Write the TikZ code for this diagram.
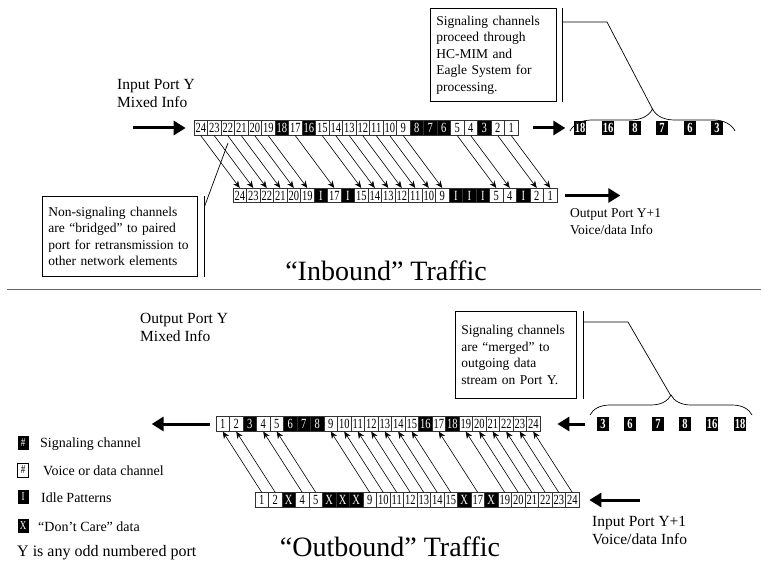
\documentclass[tikz,border=0pt]{standalone}
\usepackage{fontspec}
\setmainfont{Liberation Serif}
\newfontfamily\cellfont[FakeStretch=0.75]{Liberation Serif}
\usetikzlibrary{arrows.meta, decorations.pathreplacing, positioning}

\tikzset{
  cell/.style={draw=black!80, line width=0.7pt, minimum width=13.5pt, minimum height=14.5pt,
    inner sep=0pt, font=\cellfont\fontsize{14}{14}\selectfont},
  cellw/.style={cell, fill=white},
  cellb/.style={cell, fill=black, text=white},
  sigbox/.style={fill=black, text=white, minimum width=12pt, minimum height=14.5pt,
    inner xsep=1pt, inner ysep=0pt, font=\cellfont\fontsize{14}{14}\selectfont\bfseries},
  link/.style={-{Stealth[length=7pt,width=6pt]}, line width=0.6pt},
  port/.style={-{Triangle[length=12pt,width=14pt]}, line width=3pt},
  porttext/.style={align=left, inner sep=0pt, font=\fontsize{13.5}{17}\selectfont},
  bigport/.style={porttext, font=\fontsize{15.5}{18.5}\selectfont},
  callout/.style={draw, line width=0.7pt, align=left, inner sep=6pt,
    font=\fontsize{13.5}{16.5}\selectfont},
  title/.style={inner sep=0pt, anchor=base, font=\fontsize{28}{30}\selectfont},
  legbox/.style={minimum width=11pt, minimum height=14pt, inner sep=0pt,
    font=\cellfont\fontsize{12}{12}\selectfont},
  legtext/.style={inner sep=0pt, font=\fontsize{14}{15}\selectfont}
}

\begin{document}
\begin{tikzpicture}[x=1pt, y=-1pt]
  \useasboundingbox (0,0) rectangle (761,564);

  % ---------------- Inbound ----------------
  \node[bigport, anchor=north west] (inport) at (117,79) {Input Port Y\\Mixed Info};

  % input row, port Y
  \foreach \n/\s [count=\i] in {24/cellw,23/cellw,22/cellw,21/cellw,20/cellw,19/cellw,18/cellb,17/cellw,
      16/cellb,15/cellw,14/cellw,13/cellw,12/cellw,11/cellw,10/cellw,9/cellw,8/cellb,7/cellb,6/cellb,
      5/cellw,4/cellw,3/cellb,2/cellw,1/cellw}
    \node[\s] (it\i) at ({194+13.5*\i-6.75},128) {\n};

  % bridged row, port Y+1
  \foreach \n/\s [count=\i] in {24/cellw,23/cellw,22/cellw,21/cellw,20/cellw,19/cellw,I/cellb,17/cellw,
      I/cellb,15/cellw,14/cellw,13/cellw,12/cellw,11/cellw,10/cellw,9/cellw,I/cellb,I/cellb,I/cellb,
      5/cellw,4/cellw,I/cellb,2/cellw,1/cellw}
    \node[\s] (ib\i) at ({233+13.5*\i-6.75},195.5) {\n};

  \foreach \i in {1,2,3,4,5,6,8,10,11,12,13,14,15,16,20,21,23,24}
    \draw[link] (it\i.south) -- (ib\i.north);

  \draw[port] ([xshift=-61pt]it1.west) -- ([xshift=-8pt]it1.west);
  \draw[port] ([xshift=15pt]it24.east) -- ([xshift=47pt]it24.east);
  \draw[port] ([xshift=8pt]ib24.east) -- ([xshift=63pt]ib24.east);

  \node[porttext, anchor=north west] (outport) at (570,208) {Output Port Y+1\\Voice/data Info};

  % signaling channels taken out
  \foreach \n/\x [count=\i] in {18/580,16/608,8/635,7/662,6/690,3/717}
    \node[sigbox] (si\i) at (\x,128) {\n};

  \node[callout, anchor=north west, minimum width=126pt, minimum height=93pt, text width=114pt]
    (callin) at (430,8) {Signaling channels\\proceed through\\HC-MIM and\\Eagle System for\\processing.};
  \draw[line width=0.7pt] ([xshift=6pt]callin.north east) -- ([xshift=6pt]callin.south east);
  \draw[line width=0.7pt, decorate, decoration={brace, amplitude=22pt}] (570,131) -- (735,131);
  \coordinate (tipin) at (652.5,109);
  \draw[line width=0.7pt] (562,22) -- (607,22) -- (tipin);

  \node[callout, anchor=north west, minimum width=155pt, minimum height=80pt, text width=143pt]
    (callbr) at (42,196) {Non-signaling channels\\are “bridged” to paired\\port for retransmission to\\other network elements};
  \draw[line width=0.7pt] ([xshift=7pt]callbr.north east) -- ([xshift=7pt]callbr.south east);
  \coordinate (brtip) at (228,143);
  \draw[line width=0.7pt] ([xshift=7pt,yshift=-10pt]callbr.north east) -- (brtip);

  \node[title] (tin) at (386,281) {“Inbound” Traffic};

  % separator
  \draw[line width=1.8pt, black!60] (7,289.5) -- (761,289.5);

  % ---------------- Outbound ----------------
  \node[bigport, anchor=north west] (outy) at (140,313) {Output Port Y\\Mixed Info};

  % merged row, port Y
  \foreach \n/\s [count=\i] in {1/cellw,2/cellw,3/cellb,4/cellw,5/cellw,6/cellb,7/cellb,8/cellb,
      9/cellw,10/cellw,11/cellw,12/cellw,13/cellw,14/cellw,15/cellw,16/cellb,17/cellw,18/cellb,
      19/cellw,20/cellw,21/cellw,22/cellw,23/cellw,24/cellw}
    \node[\s] (ot\i) at ({216+13.5*\i-6.75},424) {\n};

  % input row, port Y+1
  \foreach \n/\s [count=\i] in {1/cellw,2/cellw,X/cellb,4/cellw,5/cellw,X/cellb,X/cellb,X/cellb,
      9/cellw,10/cellw,11/cellw,12/cellw,13/cellw,14/cellw,15/cellw,X/cellb,17/cellw,X/cellb,
      19/cellw,20/cellw,21/cellw,22/cellw,23/cellw,24/cellw}
    \node[\s] (ob\i) at ({255+13.5*\i-6.75},500) {\n};

  \foreach \i in {1,2,4,5,9,10,11,12,13,14,15,17,19,20,21,22,23,24}
    \draw[link] (ob\i.north) -- (ot\i.south);

  \draw[port] ([xshift=-6pt]ot1.west) -- ([xshift=-64pt]ot1.west);
  \draw[port] ([xshift=45pt]ot24.east) -- ([xshift=17pt]ot24.east);
  \draw[port] ([xshift=61pt]ob24.east) -- ([xshift=10pt]ob24.east);

  \node[bigport, anchor=north west] (iny) at (592,516) {Input Port Y+1\\Voice/data Info};

  % signaling channels merged in
  \foreach \n/\x [count=\i] in {3/603,6/630,7/658,8/685,16/712,18/740}
    \node[sigbox] (so\i) at (\x,424) {\n};

  \node[callout, anchor=north west, minimum width=121pt, minimum height=87pt, text width=109pt]
    (callmg) at (455,311) {Signaling channels\\are “merged” to\\outgoing data\\stream on Port Y.};
  \draw[line width=0.7pt] ([xshift=7pt]callmg.north east) -- ([xshift=7pt]callmg.south east);
  \draw[line width=0.7pt, decorate, decoration={brace, amplitude=20pt}] (590,415) -- (752,415);
  \coordinate (tipout) at (671,396);
  \draw[line width=0.7pt] (583,322) -- (628,322) -- (tipout);

  \node[title] (tout) at (390,556) {“Outbound” Traffic};

  % legend
  \node[legbox, fill=black, text=white] (lg1) at (23,443) {\#};
  \node[legtext, anchor=west] at (40,444) {Signaling channel};
  \node[legbox, draw, line width=0.6pt] (lg2) at (23,470) {\#};
  \node[legtext, anchor=west] at (43,471) {Voice or data channel};
  \node[legbox, fill=black, text=white] (lg3) at (23,497) {I};
  \node[legtext, anchor=west] at (41,498) {Idle Patterns};
  \node[legbox, fill=black, text=white] (lg4) at (23,526) {X};
  \node[legtext, anchor=west] at (38,527) {“Don’t Care” data};
  \node[legtext, anchor=west, font=\fontsize{16}{17}\selectfont] (lgy) at (17,553) {Y is any odd numbered port};
\end{tikzpicture}
\end{document}
